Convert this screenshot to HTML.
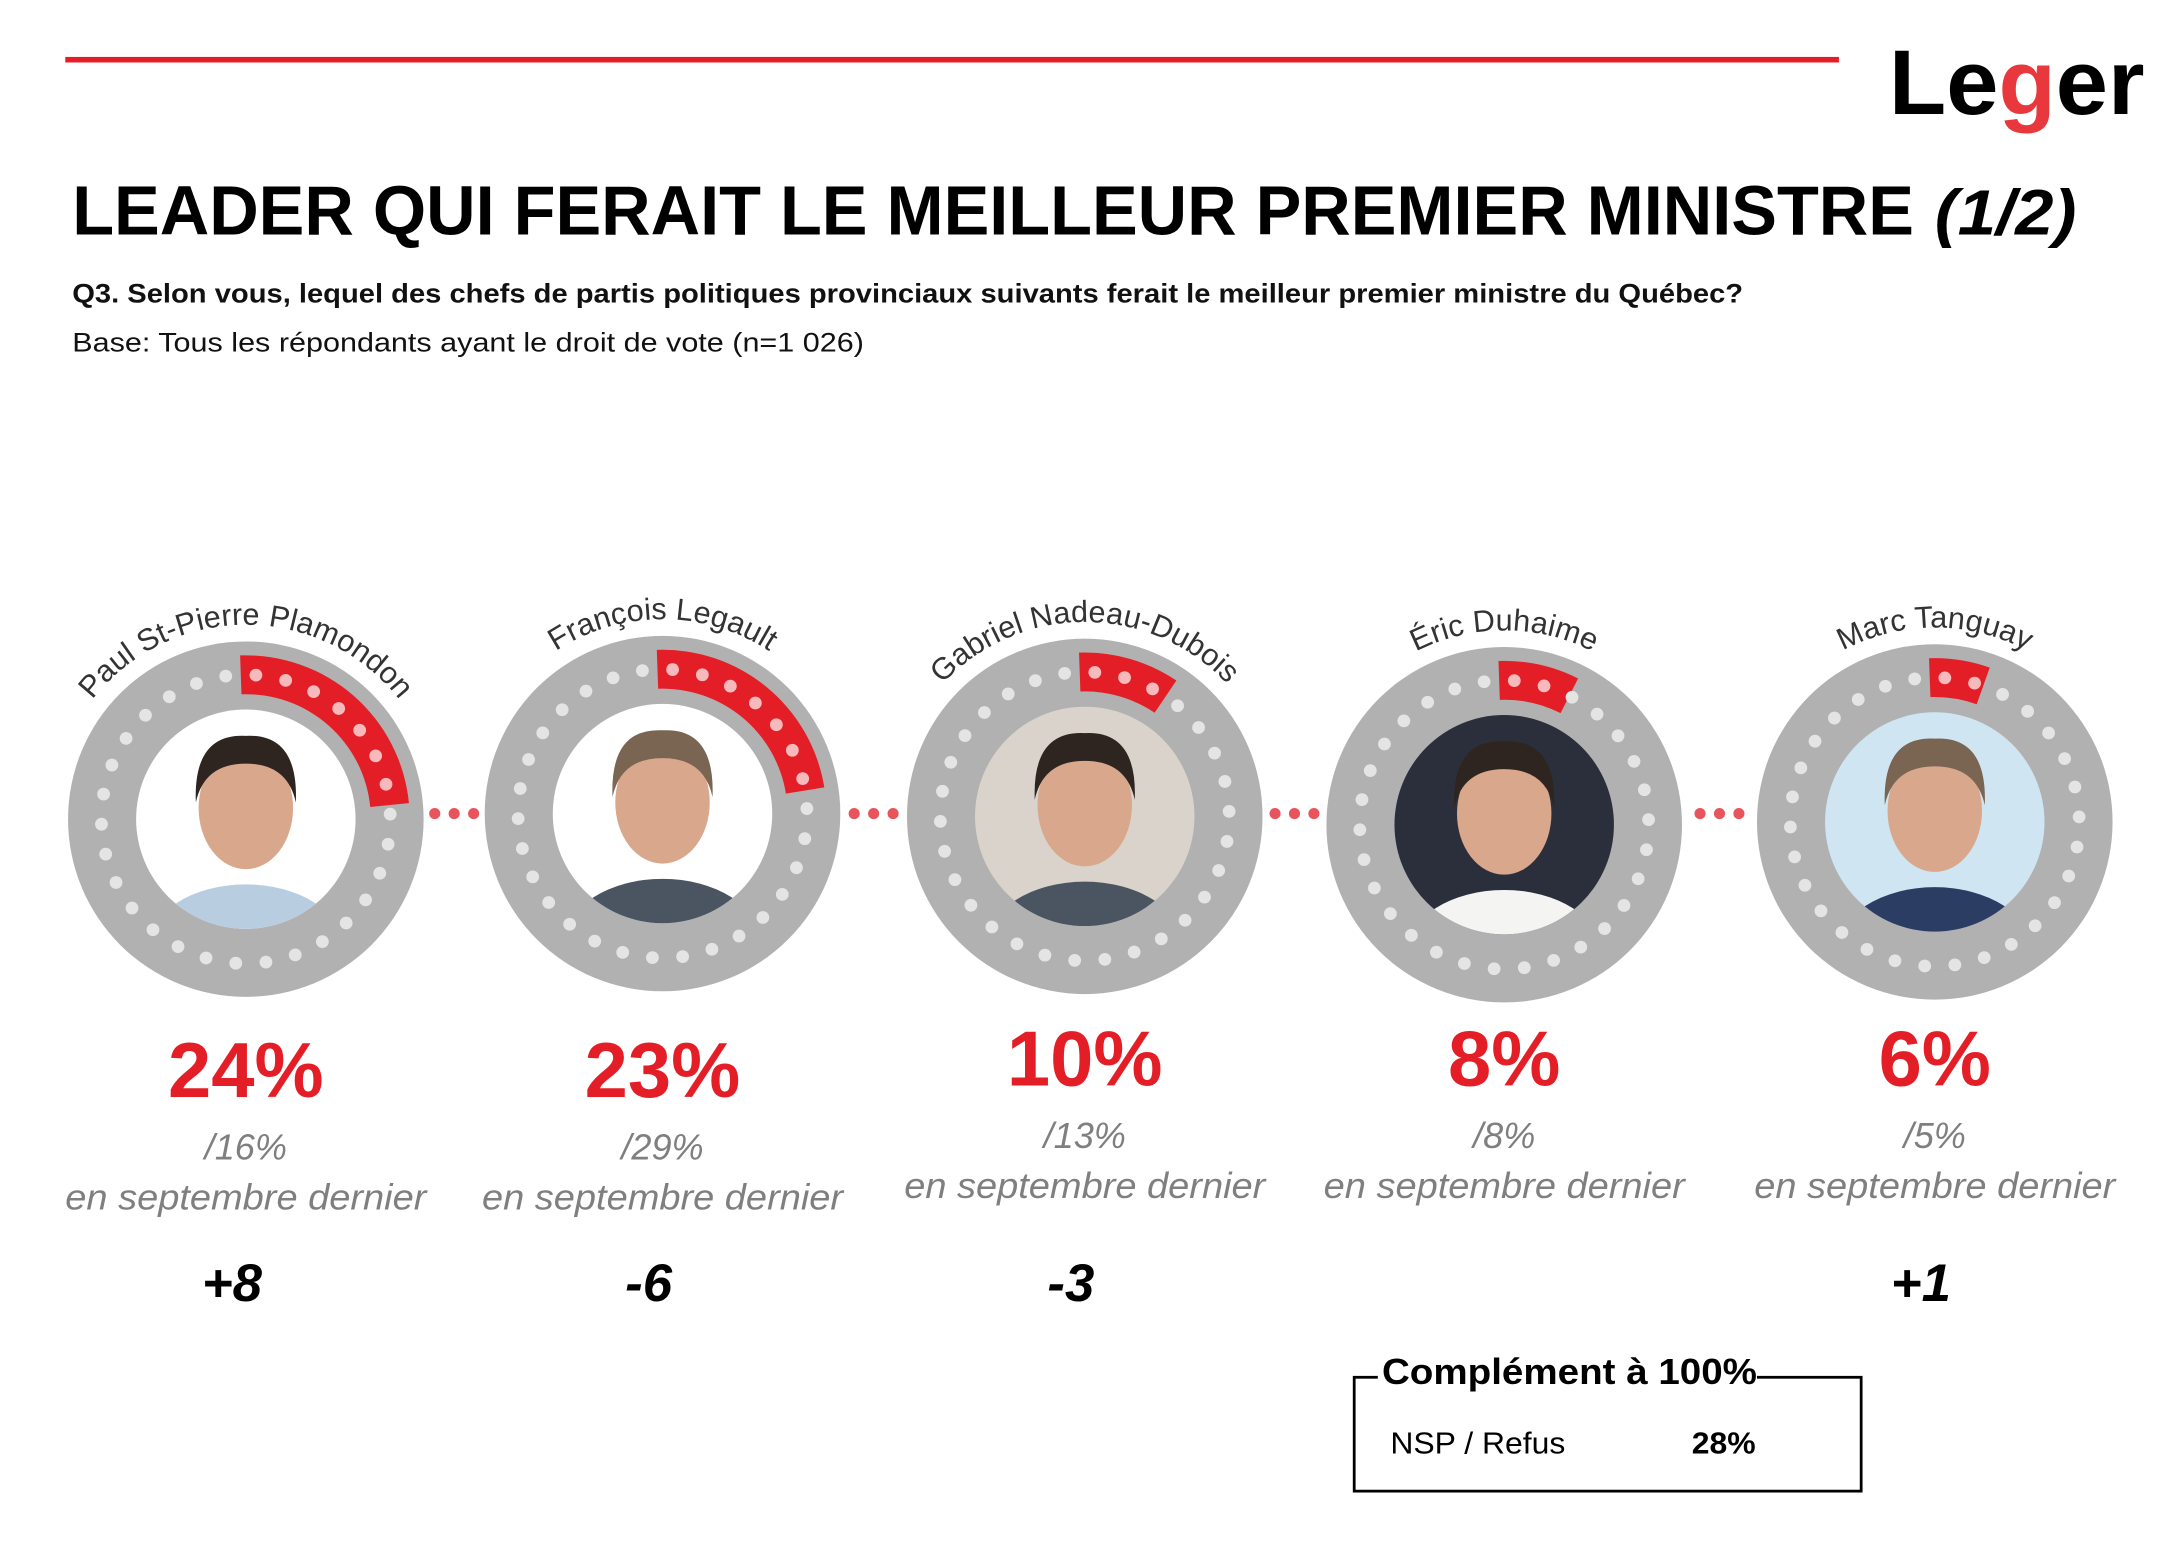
<!DOCTYPE html>
<html><head><meta charset="utf-8">
<style>
html,body{margin:0;padding:0;background:#fff;}
svg{display:block;font-family:"Liberation Sans",sans-serif;}
</style></head>
<body>
<svg id="chart" width="2157" height="1555" viewBox="0 0 1553 1120" preserveAspectRatio="none" xmlns="http://www.w3.org/2000/svg">
  <rect x="0" y="0" width="1553" height="1120" fill="#fff"/>
  <rect x="47" y="41" width="1277" height="4" fill="#e41e26"/>
  <text x="1360" y="82" font-size="66" font-weight="bold" fill="#000" textLength="184" lengthAdjust="spacingAndGlyphs">Le<tspan fill="#e8383d">g</tspan>er</text>
  <text x="52" y="169" font-size="50" font-weight="bold" fill="#000" textLength="1326" lengthAdjust="spacingAndGlyphs">LEADER QUI FERAIT LE MEILLEUR PREMIER MINISTRE</text>
  <text x="1393" y="169" font-size="46" font-weight="bold" font-style="italic" fill="#000" textLength="102" lengthAdjust="spacingAndGlyphs">(1/2)</text>
  <text x="52" y="218" font-size="19" font-weight="bold" fill="#111" textLength="1203" lengthAdjust="spacingAndGlyphs">Q3. Selon vous, lequel des chefs de partis politiques provinciaux suivants ferait le meilleur premier ministre du Québec?</text>
  <text x="52" y="253" font-size="19" fill="#111" textLength="570" lengthAdjust="spacingAndGlyphs">Base: Tous les répondants ayant le droit de vote (n=1 026)</text>
  <g id="marks"></g>
  <g>
    <rect x="975" y="992" width="365" height="82" fill="none" stroke="#000" stroke-width="2"/>
    <rect x="992" y="978" width="273" height="24" fill="#fff"/>
    <text x="995" y="997" font-size="26" font-weight="bold" fill="#000" textLength="270" lengthAdjust="spacingAndGlyphs">Complément à 100%</text>
    <text x="1001" y="1047" font-size="22" fill="#000" textLength="126" lengthAdjust="spacingAndGlyphs">NSP / Refus</text>
    <text x="1218" y="1047" font-size="22" font-weight="bold" fill="#000" textLength="46" lengthAdjust="spacingAndGlyphs">28%</text>
  </g>
</svg>
<script>
const names = ["Paul St-Pierre Plamondon","François Legault","Gabriel Nadeau-Dubois","Éric Duhaime","Marc Tanguay"];
const pcts = [24,23,10,8,6];
const prevPcts = [16,29,13,8,5];
const changes = ["+8","-6","-3","","+1"];
const photoBgs = ["#ffffff","#ffffff","#d9d3cc","#2b2f3b","#cfe6f2"];

const NS = "http://www.w3.org/2000/svg";
const g = document.getElementById("marks");
const cxs = [177,477,781,1083,1393];
const cys = [590,586,588,594,592];
const R_OUT = 128, R_IN = 79, RED_OUT = 118, RED_IN = 90, DOT_R = 104;
function xScale(i){ return cxs[i]; }
function angleScale(p){ return p/100*360; }
function el(tag, attrs, parent){
  const e = document.createElementNS(NS, tag);
  for (const k in attrs) e.setAttribute(k, attrs[k]);
  (parent||g).appendChild(e);
  return e;
}
function pt(cx,cy,r,deg){ const a=(deg-90)*Math.PI/180; return [cx+r*Math.cos(a), cy+r*Math.sin(a)]; }

names.forEach((name,i)=>{
  const cx = xScale(i), cy = cys[i];
  const grp = el("g",{});
  
  
  const ring = el("circle",{cx:cx,cy:cy,r:R_OUT,fill:"#b1b1b1"},grp);
  
  
  // red arc
  const a0 = -2, a1 = -2 + angleScale(pcts[i]);
  const p1=pt(cx,cy,RED_OUT,a0), p2=pt(cx,cy,RED_OUT,a1), p3=pt(cx,cy,RED_IN,a1), p4=pt(cx,cy,RED_IN,a0);
  const large = (a1-a0)>180?1:0;
  const arc = el("path",{d:`M${p1[0]},${p1[1]} A${RED_OUT},${RED_OUT} 0 ${large} 1 ${p2[0]},${p2[1]} L${p3[0]},${p3[1]} A${RED_IN},${RED_IN} 0 ${large} 0 ${p4[0]},${p4[1]} Z`,fill:"#e41e26"},grp);
  
  
  // dots
  for(let k=0;k<30;k++){
    const ang = k*12+4;
    const p = pt(cx,cy,DOT_R,ang);
    const onRed = ang>=a0 && ang<=a1;
    const d = el("circle",{cx:p[0],cy:p[1],r:4.6,fill:onRed?"#f6b9bc":"#e4e4e4"},grp);
    
    
  }
  // photo
  const ph = el("g",{},grp);
  
  
  const clipId = "clip"+i;
  const cp = el("clipPath",{id:clipId},ph);
  el("circle",{cx:cx,cy:cy,r:R_IN},cp);
  el("circle",{cx:cx,cy:cy,r:R_IN,fill:photoBgs[i]},ph);
  const inner = el("g",{"clip-path":`url(#${clipId})`},ph);
  const suit = i===4?"#2b3d63":(i===3?"#f4f4f2":(i===0?"#b9cde0":"#4a5561"));
  el("ellipse",{cx:cx,cy:cy+92,rx:70,ry:45,fill:suit},inner);
  el("ellipse",{cx:cx,cy:cy-8,rx:34,ry:44,fill:"#d9a78c"},inner);
  el("path",{d:`M${cx-36},${cy-12} Q${cx-38},${cy-62} ${cx},${cy-60} Q${cx+38},${cy-62} ${cx+36},${cy-12} Q${cx+30},${cy-40} ${cx},${cy-40} Q${cx-30},${cy-40} ${cx-36},${cy-12}Z`,fill:i===4||i===1?"#7a6552":"#2e2520"},inner);
  // name on arc
  const pid = "namepath"+i;
  const rn = 140;
  const s = pt(cx,cy,rn,-80), e = pt(cx,cy,rn,80);
  el("path",{id:pid,d:`M${s[0]},${s[1]} A${rn},${rn} 0 0 1 ${e[0]},${e[1]}`,fill:"none"},grp);
  const t = el("text",{"font-size":22,fill:"#333","text-anchor":"middle"},grp);
  
  
  const tp = el("textPath",{href:"#"+pid,startOffset:"50%"},t);
  tp.textContent = name;
  // connector dots
  if(i<names.length-1){
    const mid = (cx + R_OUT + xScale(i+1) - R_OUT)/2;
    for(let k=-1;k<=1;k++){
      const c = el("circle",{cx:mid+k*14,cy:586,r:4,fill:"#e8545b"});
      
      
    }
  }
  // labels
  const base = i<2 ? 790 : 782;
  const pv = el("text",{x:cx,y:base,"font-size":56,"font-weight":"bold",fill:"#e41e26","text-anchor":"middle"});
  
  
  pv.textContent = pcts[i]+"%";
  const prev = el("text",{x:cx,y:base+45,"font-size":26,"font-style":"italic",fill:"#7f7f7f","text-anchor":"middle"});
  
  
  prev.textContent = "/"+prevPcts[i]+"%";
  const sep = el("text",{x:cx,y:base+81,"font-size":26,"font-style":"italic",fill:"#7f7f7f","text-anchor":"middle",textLength:260,lengthAdjust:"spacingAndGlyphs"});
  
  
  sep.textContent = "en septembre dernier";
  if(changes[i]){
    const ch = el("text",{x:cx-10,y:937,"font-size":38,"font-weight":"bold","font-style":"italic",fill:"#000","text-anchor":"middle"});
    
    
    ch.textContent = changes[i];
  }
});
</script>
</body></html>
